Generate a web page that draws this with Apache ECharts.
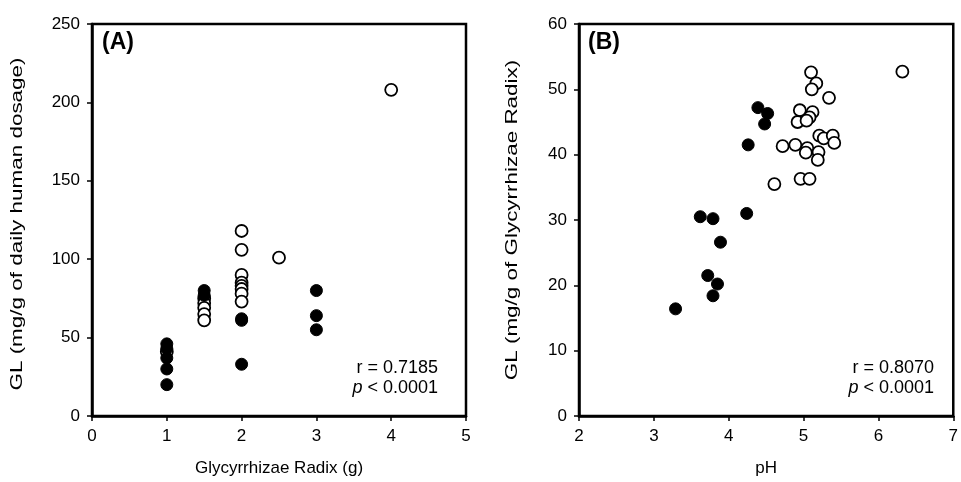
<!DOCTYPE html>
<html>
<head>
<meta charset="utf-8">
<script src="https://cdn.jsdelivr.net/npm/echarts@6/dist/echarts.min.js"></script>
<style>
  html, body { margin: 0; padding: 0; background: #fff; }
  #main { width: 961px; height: 482px; }
</style>
</head>
<body>
<div id="main"></div>
<script>
// panel A: dose of Glycyrrhizae Radix (g) vs GL
const aFilledX = [1, 1, 1, 1, 1, 1.5, 1.5, 2, 2, 2, 3, 3, 3];
const aFilledY = [46, 43, 37, 30, 20, 80, 77, 62, 61, 33, 80, 64, 55];
const aOpenX = [1, 1.5, 1.5, 1.5, 1.5, 1.5, 2, 2, 2, 2, 2, 2, 2, 2, 2.5, 4];
const aOpenY = [41, 75, 72, 69, 65, 61, 118, 106, 90, 85, 83, 81, 78, 73, 101, 208];

// panel B: pH vs GL
const bFilledX = [4.39, 4.52, 4.48, 4.26, 3.62, 3.79, 4.24, 3.89, 3.72, 3.85, 3.79, 3.29];
const bFilledY = [47.2, 46.3, 44.7, 41.5, 30.5, 30.2, 31.0, 26.6, 21.5, 20.2, 18.4, 16.4];
const bOpenX = [6.32, 5.10, 5.17, 5.11, 5.34, 4.95, 5.12, 5.08, 4.92, 5.04, 5.21, 5.27,
                5.39, 5.41, 4.72, 4.89, 5.05, 5.03, 5.20, 5.19, 4.96, 5.08, 4.61];
const bOpenY = [52.7, 52.6, 50.9, 50.0, 48.7, 46.8, 46.5, 45.7, 45.0, 45.2, 42.9, 42.5,
                42.9, 41.8, 41.3, 41.5, 41.0, 40.3, 40.4, 39.2, 36.3, 36.3, 35.5];

const aXTicks = [0, 1, 2, 3, 4, 5];
const aYTicks = [0, 50, 100, 150, 200, 250];
const bXTicks = [2, 3, 4, 5, 6, 7];
const bYTicks = [0, 10, 20, 30, 40, 50, 60];

const zip = (xs, ys) => xs.map((x, i) => [x, ys[i]]);

const font = 'Liberation Sans, Arial, sans-serif';

function valueAxis(ticks, name, gap, idx) {
  return {
    type: 'value',
    gridIndex: idx,
    min: ticks[0],
    max: ticks[ticks.length - 1],
    interval: ticks[1] - ticks[0],
    name: name,
    nameLocation: 'middle',
    nameGap: gap,
    nameTextStyle: { color: '#000', fontSize: 17, fontFamily: font },
    axisLine: { show: true, onZero: false, lineStyle: { color: '#000', width: 2.5 } },
    axisTick: { show: true, length: 5, lineStyle: { color: '#000', width: 1.5 } },
    axisLabel: { color: '#000', fontSize: 17, fontFamily: font, margin: 12 },
    splitLine: { show: false }
  };
}

// y titles are drawn as graphic text (stretched like the source figure)
function yTitle(text, cx, cy) {
  return {
    type: 'text', x: cx, y: cy, rotation: Math.PI / 2, scaleX: 1.32, scaleY: 1,
    style: { text: text, x: 0, y: 0, align: 'center', verticalAlign: 'middle', font: '17px ' + font, fill: '#000' }
  };
}

function statText(r, rightEdge) {
  return {
    type: 'text', x: rightEdge, y: 358,
    style: {
      text: 'r = ' + r + '\n{i|p} < 0.0001', font: '18px ' + font, fill: '#000', align: 'right', lineHeight: 20,
      rich: { i: { fontStyle: 'italic', fontSize: 18, fontFamily: font } }
    }
  };
}

const openStyle = { color: '#fff', borderColor: '#000', borderWidth: 1.8, opacity: 1 };
const filledStyle = { color: '#000', borderColor: '#000', borderWidth: 1, opacity: 1 };

const chart = echarts.init(document.getElementById('main'));

const option = {
  animation: false,
  grid: [
    { left: 92, top: 24, width: 374, height: 394, show: true, borderColor: '#000', borderWidth: 2.5 },
    { left: 579, top: 24, width: 380, height: 393, show: true, borderColor: '#000', borderWidth: 2.5 }
  ],
  xAxis: [
    valueAxis(aXTicks, 'Glycyrrhizae Radix (g)', 44, 0),
    valueAxis(bXTicks, 'pH', 44, 1)
  ],
  yAxis: [
    Object.assign(valueAxis(aYTicks, '', 0, 0), { name: '' }),
    Object.assign(valueAxis(bYTicks, '', 0, 1), { name: '' })
  ],
  // open circles first so the filled ones sit on top
  series: [
    { type: 'scatter', xAxisIndex: 0, yAxisIndex: 0, symbolSize: 12, itemStyle: openStyle, data: zip(aOpenX, aOpenY) },
    { type: 'scatter', xAxisIndex: 0, yAxisIndex: 0, symbolSize: 12, itemStyle: filledStyle, data: zip(aFilledX, aFilledY) },
    { type: 'scatter', xAxisIndex: 1, yAxisIndex: 1, symbolSize: 12, itemStyle: openStyle, data: zip(bOpenX, bOpenY) },
    { type: 'scatter', xAxisIndex: 1, yAxisIndex: 1, symbolSize: 12, itemStyle: filledStyle, data: zip(bFilledX, bFilledY) }
  ],
  graphic: [
    yTitle('GL (mg/g of daily human dosage)', 17, 224),
    yTitle('GL (mg/g of Glycyrrhizae Radix)', 512, 220),
    { type: 'text', left: 102, top: 31, style: { text: '(A)', font: 'bold 23px ' + font, fill: '#000' } },
    { type: 'text', left: 588, top: 31, style: { text: '(B)', font: 'bold 23px ' + font, fill: '#000' } },
    statText('0.7185', 438),
    statText('0.8070', 934)
  ]
};

option && chart.setOption(option);
</script>
</body>
</html>
